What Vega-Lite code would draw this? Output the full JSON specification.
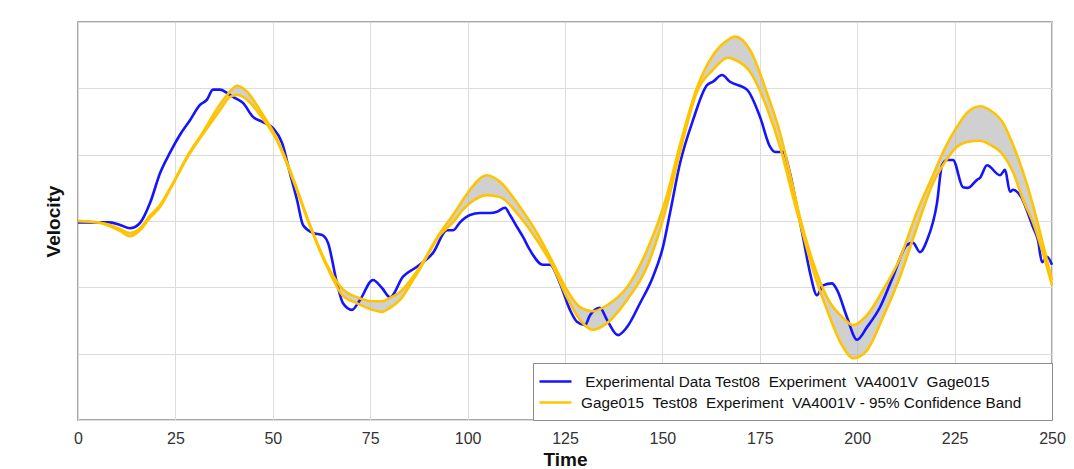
{
  "$schema": "https://vega.github.io/schema/vega-lite/v6.json",
  "width": 974,
  "height": 398,
  "autosize": {"type": "none"},
  "padding": {"left": 78, "top": 22, "right": 22, "bottom": 49},
  "background": "white",
  "config": {
    "font": "Liberation Sans",
    "view": {"stroke": "#8c8c8c", "strokeWidth": 1.5},
    "axis": {"gridColor": "#dcdcdc", "gridWidth": 1, "domain": false, "ticks": false, "tickSize": 0}
  },
  "datasets": {
    "exp": [
      {"t": 0, "v": -0.02}, {"t": 4.88, "v": -0.02}, {"t": 8.21, "v": -0.02}, {"t": 10.78, "v": -0.06},
      {"t": 13.35, "v": -0.11}, {"t": 15.91, "v": -0.03}, {"t": 18.48, "v": 0.27}, {"t": 21.05, "v": 0.72},
      {"t": 23.61, "v": 1.03}, {"t": 26.18, "v": 1.3}, {"t": 28.75, "v": 1.52}, {"t": 31.31, "v": 1.75},
      {"t": 33.11, "v": 1.83}, {"t": 34.65, "v": 1.98}, {"t": 36.45, "v": 1.98}, {"t": 38.24, "v": 1.93},
      {"t": 39.78, "v": 1.87}, {"t": 42.35, "v": 1.78}, {"t": 44.92, "v": 1.57}, {"t": 47.48, "v": 1.49},
      {"t": 50.05, "v": 1.4}, {"t": 52.36, "v": 1.18}, {"t": 54.41, "v": 0.72}, {"t": 56.21, "v": 0.32},
      {"t": 57.75, "v": -0.06}, {"t": 60.32, "v": -0.18}, {"t": 62.63, "v": -0.21}, {"t": 64.17, "v": -0.33},
      {"t": 66.48, "v": -0.94}, {"t": 68.02, "v": -1.24}, {"t": 70.33, "v": -1.34}, {"t": 72.38, "v": -1.19},
      {"t": 75.72, "v": -0.89}, {"t": 78.03, "v": -1.01}, {"t": 80.08, "v": -1.15}, {"t": 83.42, "v": -0.84},
      {"t": 87.01, "v": -0.69}, {"t": 91.12, "v": -0.48}, {"t": 94.71, "v": -0.14}, {"t": 96.25, "v": -0.14},
      {"t": 98.05, "v": -0.02}, {"t": 100.62, "v": 0.09}, {"t": 103.18, "v": 0.12}, {"t": 105.75, "v": 0.12},
      {"t": 107.55, "v": 0.14}, {"t": 109.6, "v": 0.2}, {"t": 110.88, "v": 0.09}, {"t": 112.68, "v": -0.09},
      {"t": 114.22, "v": -0.24}, {"t": 116.02, "v": -0.44}, {"t": 119.35, "v": -0.66}, {"t": 121.15, "v": -0.66},
      {"t": 123.72, "v": -0.94}, {"t": 126.28, "v": -1.34}, {"t": 128.08, "v": -1.52}, {"t": 130.13, "v": -1.57},
      {"t": 131.42, "v": -1.42}, {"t": 133.98, "v": -1.31}, {"t": 135.78, "v": -1.49}, {"t": 138.6, "v": -1.72},
      {"t": 140.91, "v": -1.6}, {"t": 144.25, "v": -1.24}, {"t": 147.59, "v": -0.84}, {"t": 150.15, "v": -0.39},
      {"t": 151.95, "v": 0.12}, {"t": 154.52, "v": 0.87}, {"t": 157.85, "v": 1.52}, {"t": 161.45, "v": 2.05},
      {"t": 162.99, "v": 2.1}, {"t": 165.3, "v": 2.2}, {"t": 167.35, "v": 2.1}, {"t": 171.71, "v": 1.98},
      {"t": 175.05, "v": 1.57}, {"t": 177.62, "v": 1.12}, {"t": 178.9, "v": 1.04}, {"t": 180.95, "v": 1.04},
      {"t": 182.75, "v": 0.72}, {"t": 184.55, "v": 0.21}, {"t": 186.09, "v": -0.24}, {"t": 187.89, "v": -0.78},
      {"t": 189.68, "v": -1.12}, {"t": 191.22, "v": -0.97}, {"t": 193.53, "v": -0.94}, {"t": 194.82, "v": -1.04},
      {"t": 197.38, "v": -1.45}, {"t": 199.95, "v": -1.79}, {"t": 202.52, "v": -1.6}, {"t": 205.85, "v": -1.3},
      {"t": 209.19, "v": -0.84}, {"t": 212.78, "v": -0.36}, {"t": 214.32, "v": -0.33}, {"t": 216.12, "v": -0.47},
      {"t": 217.92, "v": -0.29}, {"t": 220.48, "v": 0.27}, {"t": 221.77, "v": 0.84}, {"t": 223.05, "v": 0.92},
      {"t": 224.59, "v": 0.92}, {"t": 227.16, "v": 0.51}, {"t": 228.44, "v": 0.5}, {"t": 230.75, "v": 0.62},
      {"t": 231.52, "v": 0.65}, {"t": 233.32, "v": 0.84}, {"t": 236.65, "v": 0.69}, {"t": 237.94, "v": 0.77},
      {"t": 239.22, "v": 0.44}, {"t": 239.99, "v": 0.47}, {"t": 241.79, "v": 0.39}, {"t": 245.12, "v": -0.09},
      {"t": 246.41, "v": -0.29}, {"t": 247.43, "v": -0.62}, {"t": 248.72, "v": -0.54}, {"t": 250, "v": -0.66}
    ],
    "band": [
      {"t": 0, "hi": 0, "lo": 0}, {"t": 4.88, "hi": -0.02, "lo": -0.02}, {"t": 8.21, "hi": -0.06, "lo": -0.08},
      {"t": 10.78, "hi": -0.12, "lo": -0.15}, {"t": 13.35, "hi": -0.18, "lo": -0.23}, {"t": 15.91, "hi": -0.11, "lo": -0.14},
      {"t": 18.48, "hi": 0.08, "lo": 0.05}, {"t": 21.05, "hi": 0.24, "lo": 0.21}, {"t": 24.38, "hi": 0.57, "lo": 0.56},
      {"t": 27.98, "hi": 0.97, "lo": 0.95}, {"t": 32.08, "hi": 1.34, "lo": 1.31}, {"t": 36.45, "hi": 1.76, "lo": 1.67},
      {"t": 39.01, "hi": 1.95, "lo": 1.87}, {"t": 40.81, "hi": 2.04, "lo": 1.9}, {"t": 43.38, "hi": 1.95, "lo": 1.83},
      {"t": 46.71, "hi": 1.67, "lo": 1.6}, {"t": 49.28, "hi": 1.43, "lo": 1.39}, {"t": 51.08, "hi": 1.24, "lo": 1.21},
      {"t": 55.18, "hi": 0.65, "lo": 0.62}, {"t": 59.55, "hi": -0.06, "lo": -0.08}, {"t": 63.91, "hi": -0.66, "lo": -0.69},
      {"t": 68.02, "hi": -1.03, "lo": -1.13}, {"t": 71.61, "hi": -1.15, "lo": -1.24}, {"t": 75.72, "hi": -1.21, "lo": -1.34},
      {"t": 78.03, "hi": -1.21, "lo": -1.37}, {"t": 80.08, "hi": -1.16, "lo": -1.31}, {"t": 82.65, "hi": -1.07, "lo": -1.19},
      {"t": 85.99, "hi": -0.84, "lo": -0.89}, {"t": 87.78, "hi": -0.69, "lo": -0.72}, {"t": 92.92, "hi": -0.18, "lo": -0.21},
      {"t": 96.25, "hi": 0.09, "lo": -0.02}, {"t": 98.82, "hi": 0.32, "lo": 0.17}, {"t": 100.62, "hi": 0.47, "lo": 0.27},
      {"t": 104.98, "hi": 0.69, "lo": 0.39}, {"t": 108.32, "hi": 0.59, "lo": 0.36}, {"t": 113.45, "hi": 0.21, "lo": 0.06},
      {"t": 117.81, "hi": -0.18, "lo": -0.29}, {"t": 121.92, "hi": -0.63, "lo": -0.69}, {"t": 125.51, "hi": -1.04, "lo": -1.15},
      {"t": 128.85, "hi": -1.3, "lo": -1.49}, {"t": 132.19, "hi": -1.36, "lo": -1.64}, {"t": 135.78, "hi": -1.27, "lo": -1.54},
      {"t": 140.91, "hi": -1.0, "lo": -1.19}, {"t": 146.05, "hi": -0.44, "lo": -0.69}, {"t": 151.18, "hi": 0.39, "lo": 0.24},
      {"t": 154.52, "hi": 1.15, "lo": 1.04}, {"t": 158.88, "hi": 2.01, "lo": 1.95}, {"t": 162.99, "hi": 2.5, "lo": 2.28},
      {"t": 166.84, "hi": 2.73, "lo": 2.46}, {"t": 168.63, "hi": 2.78, "lo": 2.43}, {"t": 172.48, "hi": 2.58, "lo": 2.25},
      {"t": 176.85, "hi": 1.93, "lo": 1.7}, {"t": 180.18, "hi": 1.33, "lo": 1.12}, {"t": 183.52, "hi": 0.51, "lo": 0.36},
      {"t": 185.32, "hi": 0.05, "lo": -0.03}, {"t": 188.66, "hi": -0.62, "lo": -0.74}, {"t": 192.25, "hi": -1.15, "lo": -1.34},
      {"t": 196.36, "hi": -1.46, "lo": -1.9}, {"t": 198.92, "hi": -1.57, "lo": -2.07}, {"t": 202.52, "hi": -1.42, "lo": -1.95},
      {"t": 206.62, "hi": -1.04, "lo": -1.45}, {"t": 210.99, "hi": -0.56, "lo": -0.84}, {"t": 215.35, "hi": 0.14, "lo": -0.09},
      {"t": 219.46, "hi": 0.69, "lo": 0.57}, {"t": 222.54, "hi": 1.1, "lo": 0.89}, {"t": 225.62, "hi": 1.42, "lo": 1.12},
      {"t": 228.18, "hi": 1.63, "lo": 1.19}, {"t": 231.52, "hi": 1.73, "lo": 1.21}, {"t": 234.09, "hi": 1.67, "lo": 1.15},
      {"t": 237.42, "hi": 1.48, "lo": 1.0}, {"t": 239.99, "hi": 1.15, "lo": 0.74}, {"t": 242.56, "hi": 0.74, "lo": 0.32},
      {"t": 245.12, "hi": 0.24, "lo": -0.02}, {"t": 247.43, "hi": -0.29, "lo": -0.44}, {"t": 250, "hi": -0.89, "lo": -0.97}
    ]
  },
  "layer": [
    {
      "data": {"name": "band"},
      "mark": {"type": "area", "fill": "#b0b0b0", "opacity": 0.6, "interpolate": "monotone"},
      "encoding": {
        "x": {"field": "t", "type": "quantitative", "title": "Time",
              "scale": {"domain": [0, 250], "nice": false},
              "axis": {"values": [0, 25, 50, 75, 100, 125, 150, 175, 200, 225, 250], "labelFontSize": 16, "labelColor": "#333333", "labelPadding": 10, "titleFontSize": 19, "titleFontWeight": "bold", "titleColor": "#111111", "titlePadding": 4, "labelFlush": false}},
        "y": {"field": "lo", "type": "quantitative", "title": "Velocity",
              "scale": {"domain": [-3, 3], "nice": false},
              "axis": {"values": [-3, -2, -1, 0, 1, 2, 3], "labels": false, "titleFontSize": 19, "titleFontWeight": "bold", "titleColor": "#111111", "titlePadding": 15}},
        "y2": {"field": "hi"}
      }
    },
    {
      "data": {"name": "exp"},
      "mark": {"type": "line", "strokeWidth": 2.6, "interpolate": "monotone"},
      "encoding": {
        "x": {"field": "t", "type": "quantitative", "title": "Time"},
        "y": {"field": "v", "type": "quantitative", "title": "Velocity"},
        "color": {
          "datum": "\u200b\u00a0Experimental Data Test08 \u00a0Experiment \u00a0VA4001V \u00a0Gage015",
          "type": "nominal",
          "scale": {
            "domain": ["\u200b\u00a0Experimental Data Test08 \u00a0Experiment \u00a0VA4001V \u00a0Gage015", "Gage015 \u00a0Test08 \u00a0Experiment \u00a0VA4001V - 95% Confidence Band\u00a0\u00a0\u00a0\u00a0\u00a0\u200b"],
            "range": ["#1414ff", "#ffc400"]
          },
          "legend": {
            "title": null, "orient": "bottom-right", "offset": 0,
            "symbolType": "M-2,0H2", "symbolSize": 256, "symbolStrokeWidth": 2.6,
            "symbolOffset": 4,
            "labelFontSize": 15.3, "labelColor": "#111111", "labelLimit": 800,
            "padding": 9, "rowPadding": 3, "labelOffset": 16,
            "strokeColor": "#8c8c8c", "fillColor": "white"
          }
        }
      }
    },
    {
      "data": {"name": "band"},
      "mark": {"type": "line", "strokeWidth": 2.6, "interpolate": "monotone"},
      "encoding": {
        "x": {"field": "t", "type": "quantitative", "title": "Time"},
        "y": {"field": "hi", "type": "quantitative", "title": "Velocity"},
        "color": {"datum": "Gage015 \u00a0Test08 \u00a0Experiment \u00a0VA4001V - 95% Confidence Band\u00a0\u00a0\u00a0\u00a0\u00a0\u200b", "type": "nominal"}
      }
    },
    {
      "data": {"name": "band"},
      "mark": {"type": "line", "strokeWidth": 2.6, "interpolate": "monotone"},
      "encoding": {
        "x": {"field": "t", "type": "quantitative", "title": "Time"},
        "y": {"field": "lo", "type": "quantitative", "title": "Velocity"},
        "color": {"datum": "Gage015 \u00a0Test08 \u00a0Experiment \u00a0VA4001V - 95% Confidence Band\u00a0\u00a0\u00a0\u00a0\u00a0\u200b", "type": "nominal"}
      }
    }
  ]
}
